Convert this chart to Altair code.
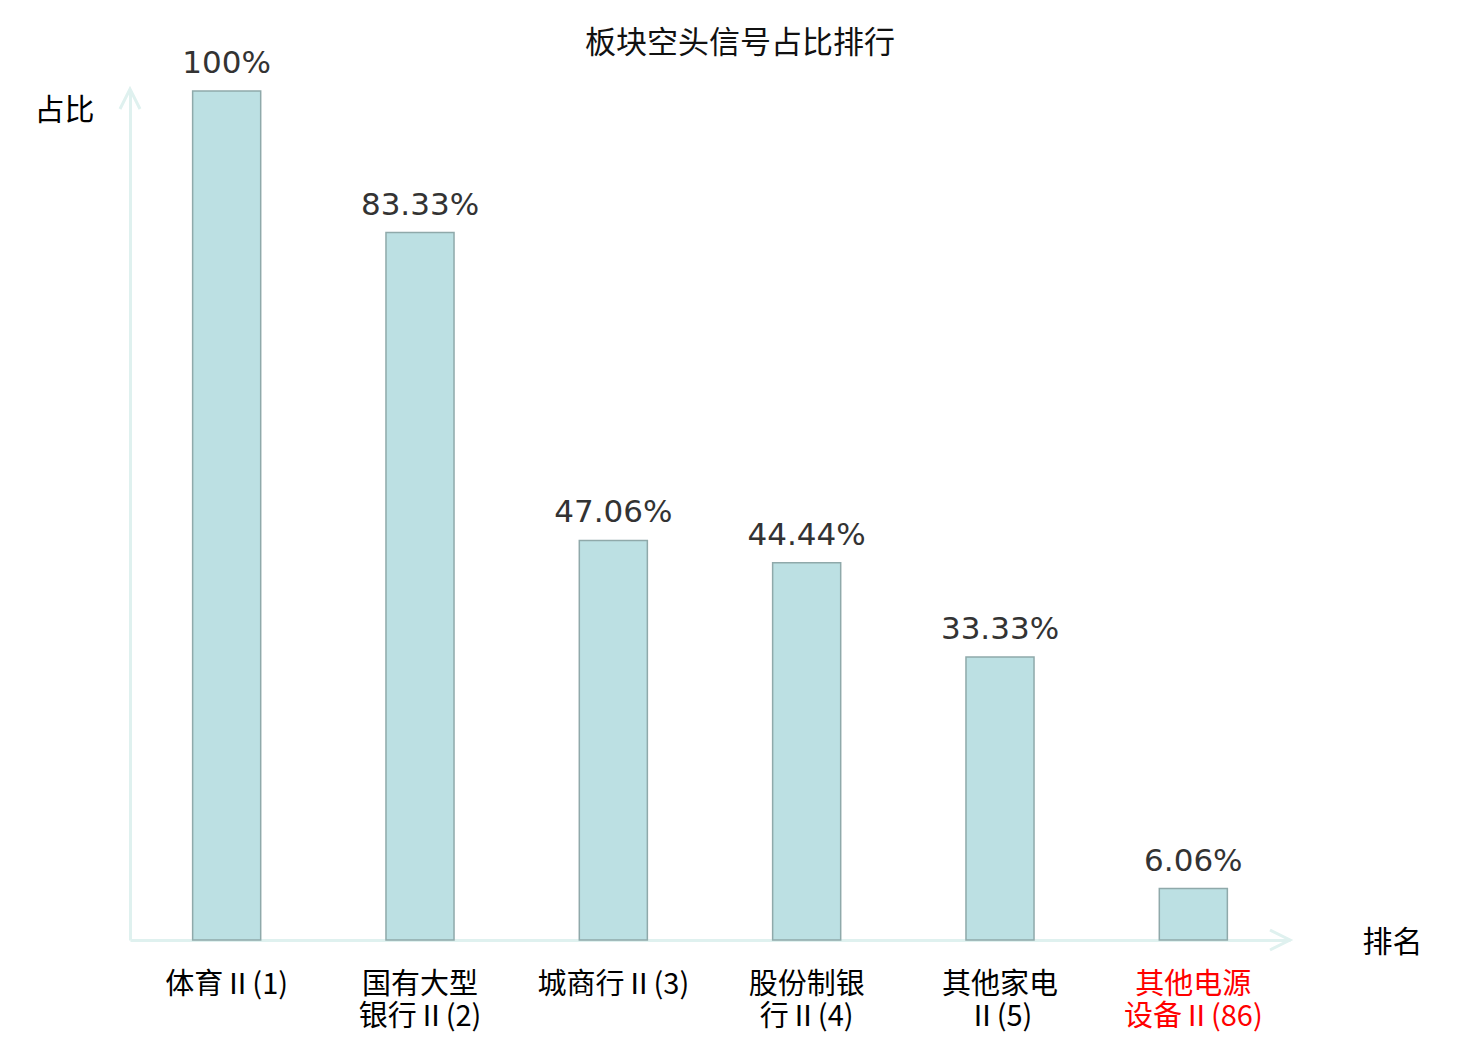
import json
import altair as alt
import pandas as pd

title_text = "板块空头信号占比排行"
categories = [
    "体育Ⅱ(1)",
    "国有大型\n银行Ⅱ(2)",
    "城商行Ⅱ(3)",
    "股份制银\n行Ⅱ(4)",
    "其他家电\nⅡ(5)",
    "其他电源\n设备Ⅱ(86)",
]
values = [100, 83.33, 47.06, 44.44, 33.33, 6.06]
value_labels = [f"{v:g}%" for v in values]
y_title = "占比"
x_title = "排名"
highlight = categories[-1]

df = pd.DataFrame({"cat": categories, "val": values, "lab": value_labels})

CJK = "Noto Sans CJK SC"
AXIS_COLOR = "#dff1ef"
W, H = 1160, 849

x_enc = alt.X(
    "cat:N",
    sort=None,
    scale=alt.Scale(paddingInner=0.648, paddingOuter=0.324),
    axis=alt.Axis(
        title=x_title,
        titleFont=CJK,
        titleFontSize=30,
        titleFontWeight="normal",
        titleColor="#000000",
        titleAngle=0,
        titleAlign="center",
        titleBaseline="middle",
        titleX=1262,
        titleY=2,
        labelExpr="split(datum.label, '\\n')",
        labelFont=CJK,
        labelFontSize=29,
        labelLineHeight=32,
        labelBaseline="top",
        labelPadding=30,
        labelAngle=0,
        labelColor={"expr": f"datum.value === {json.dumps(highlight)} ? '#ff0000' : '#000000'"},
        ticks=False,
        tickSize=0,
        domainColor=AXIS_COLOR,
        domainWidth=3,
        grid=False,
    ),
)
y_enc = alt.Y(
    "val:Q",
    scale=alt.Scale(domain=[0, 100], nice=False),
    axis=alt.Axis(
        title=y_title,
        titleFont=CJK,
        titleFontSize=30,
        titleFontWeight="normal",
        titleColor="#000000",
        titleAngle=0,
        titleAlign="center",
        titleBaseline="middle",
        titleX=-66,
        titleY=19,
        labels=False,
        ticks=False,
        tickSize=0,
        domainColor=AXIS_COLOR,
        domainWidth=3,
        grid=False,
    ),
)

bars = alt.Chart(df).mark_bar(
    fill="#bce0e3", stroke="#8fa9aa", strokeWidth=1.5
).encode(x=x_enc, y=y_enc)

texts = alt.Chart(df).mark_text(
    font="DejaVu Sans", fontSize=31, color="#333333", baseline="alphabetic", dy=-18
).encode(x=alt.X("cat:N", sort=None), y="val:Q", text="lab:N")

arrow_df = pd.DataFrame({"k": [0]})
y_arrow = alt.Chart(arrow_df).mark_point(
    shape="M-0.5,1L0,0L0.5,1", size=1600, filled=False, stroke=AXIS_COLOR, strokeWidth=3, opacity=1
).encode(x=alt.value(0), y=alt.value(-2))
x_arrow = alt.Chart(arrow_df).mark_point(
    shape="M-1,-0.5L0,0L-1,0.5", size=1600, filled=False, stroke=AXIS_COLOR, strokeWidth=3, opacity=1
).encode(x=alt.value(W), y=alt.value(H))

chart = alt.layer(bars, texts, y_arrow, x_arrow).properties(
    width=W,
    height=H,
    background="white",
    title=alt.TitleParams(
        text=title_text,
        font=CJK,
        fontSize=31,
        fontWeight="normal",
        color="#111111",
        anchor="middle",
        frame="group",
        baseline="middle",
        dx=30,
        dy=27,
        offset=0,
    ),
    autosize=alt.AutoSizeParams(type="none"),
    padding={"left": 122, "top": 83, "right": 174, "bottom": 92},
).configure_view(stroke=None, strokeWidth=0)

chart.save("out.html", embed_options={"renderer": "svg", "actions": False})
